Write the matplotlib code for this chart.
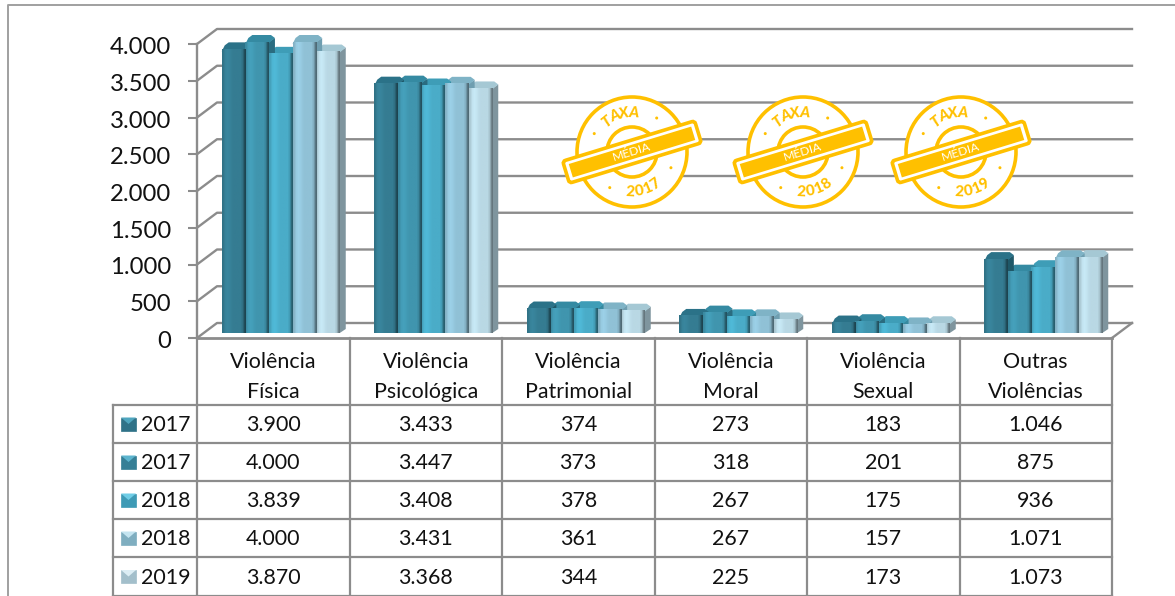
import numpy as np
import matplotlib
matplotlib.use("Agg")
import matplotlib.pyplot as plt
from matplotlib.patches import Circle, Polygon, Rectangle, FancyBboxPatch
from matplotlib.transforms import Affine2D, ScaledTranslation

categories = ["Violência\nFísica", "Violência\nPsicológica", "Violência\nPatrimonial",
              "Violência\nMoral", "Violência\nSexual", "Outras\nViolências"]
series_names = ["2017", "2017", "2018", "2018", "2019"]
v_a = [3900, 3433, 374, 273, 183, 1046]
v_b = [4000, 3447, 373, 318, 201, 875]
v_c = [3839, 3408, 378, 267, 175, 936]
v_d = [4000, 3431, 361, 267, 157, 1071]
v_e = [3870, 3368, 344, 225, 173, 1073]
series = [v_a, v_b, v_c, v_d, v_e]
yticks = [0, 500, 1000, 1500, 2000, 2500, 3000, 3500, 4000]
ytick_labels = ["0", "500", "1.000", "1.500", "2.000", "2.500", "3.000", "3.500", "4.000"]
stamp_years = ["2017", "2018", "2019"]

face = ["#357C92", "#4095AE", "#4AACC8", "#90C1D6", "#B9D8E4"]
side = ["#1F5868", "#2A6C80", "#36899F", "#6F9EB0", "#7F959E"]
top = ["#2B7288", "#358AA2", "#3E9DB7", "#7FB3C6", "#A5C8D4"]
key_body = ["#2F7288", "#367F96", "#3E9AB5", "#7FAEC0", "#A3BFCB"]
key_top = ["#4FA6BF", "#5CB4CE", "#6FCDE6", "#C4E4F0", "#DCEDF4"]
GREY = "#8C8C8C"
GOLD = "#FFC000"
FONT = "Lato"
TXT = "#111111"

W, H = 1175, 596
fig = plt.figure(figsize=(W / 100, H / 100), dpi=100)

# pixel overlay for frame, table and stamps
px = fig.add_axes([0, 0, 1, 1])
px.set_xlim(0, W)
px.set_ylim(H, 0)
px.axis("off")

# chart axes, front plane of the fake 3d box
L, R, Y0, Y4 = 197, 1112, 338, 44
ax = fig.add_axes([L / W, 1 - Y0 / H, (R - L) / W, (Y0 - Y4) / H])
ax.set_xlim(0, 6)
ax.set_ylim(0, 4000)
ax.patch.set_alpha(0)
for s in ax.spines.values():
    s.set_visible(False)
ax.set_xticks([])
ax.set_yticks(yticks)
ax.set_yticklabels(ytick_labels, fontsize=17.2, family=FONT, color=TXT)
ax.tick_params(axis="y", length=6.5, width=1.5, color=GREY, pad=12)
down = ScaledTranslation(0, -1.5 / 100, fig.dpi_scale_trans)
for lab in ax.get_yticklabels():
    lab.set_transform(lab.get_transform() + down)

DX, DY = 20, 15  # wall depth in pixels


def to_px(x, v):
    p = ax.transData.transform((x, v))
    return p[0], H - p[1]


# frame
px.plot([8, 8, W], [H, 5, 5], color="#A0A0A0", lw=1.4, solid_capstyle="butt")

# walls
for v in yticks:
    x0, y0 = to_px(0, v)
    x1, y1 = to_px(6, v)
    px.plot([x0, x0 + DX, x1 + DX], [y0, y0 - DY, y1 - DY], color=GREY, lw=1.7, zorder=1)
x0, y0 = to_px(6, 0)
px.plot([x0, x0 + DX], [y0, y0 - DY], color=GREY, lw=1.7, zorder=1)
x0, y0 = to_px(0, 0)
x1, y1 = to_px(0, 4000)
px.plot([x0, x1], [y0, y1], color=GREY, lw=1.7, zorder=1)
px.plot([x0, to_px(6, 0)[0]], [y0, y0], color=GREY, lw=2, zorder=1)

# bars
BW = 23.6
dep = 6
ax_px = (R - L) / 6
grad = np.array([[-0.08, 0.05, 0.08, 0.06, 0.02, 0.0, 0.0, 0.0, 0.0, -0.1, -0.45]])
for k in range(len(series) - 1, -1, -1):
    vals = series[k]
    for i, v in enumerate(vals):
        cx = (i + 0.5) * ax_px + L + 7.5 + (k - 2) * BW
        xl = cx - BW / 2
        xr = cx + BW / 2
        yt = to_px(0, v)[1] - 2
        yb = to_px(0, 0)[1] - 5
        zs = 3 + (5 - k) * 0.1
        px.add_patch(Polygon([(xr, yb), (xr + dep, yb - 4), (xr + dep, yt - 4), (xr, yt)],
                             fc=side[k], ec="none", zorder=zs))
        px.add_patch(Polygon([(xl, yt + 2), (xl + 3, yt - 4), (xl + 7, yt - 7), (xr + 2, yt - 7),
                              (xr + dep, yt - 4), (xr, yt + 1)],
                             fc=top[k], ec="none", zorder=zs))
        rgb = np.array(matplotlib.colors.to_rgb(face[k]))
        img = np.clip(rgb[None, None, :] * (1 + grad[..., None]), 0, 1)
        px.imshow(img, extent=(xl, xr, yb, yt), aspect="auto", zorder=zs + 0.5,
                  interpolation="bilinear")
px.set_xlim(0, W)
px.set_ylim(H, 0)

# table
row_y = [405, 443, 481, 519, 557, 596]
col_x = [L + i * ax_px for i in range(7)]
for cx in col_x:
    px.plot([cx, cx], [338, H], color=GREY, lw=1.6, zorder=2)
px.plot([113, 113], [405, H], color=GREY, lw=1.6, zorder=2)
for y in row_y:
    px.plot([113, R], [y, y], color=GREY, lw=1.6, zorder=2)

for i, cat in enumerate(categories):
    a, b = cat.split("\n")
    cx = col_x[i] + ax_px / 2
    px.text(cx, 362, a, ha="center", va="center", fontsize=15.4, family=FONT, color=TXT)
    px.text(cx, 392, b, ha="center", va="center", fontsize=15.4, family=FONT, color=TXT)


def fmt(v):
    return f"{v:,}".replace(",", ".")


for r, name in enumerate(series_names):
    yc = (row_y[r] + row_y[r + 1]) / 2
    px.add_patch(Rectangle((121, yc - 6.5), 15, 13, fc=key_body[r], ec=key_body[r], lw=0.5, zorder=4))
    px.add_patch(Polygon([(121, yc - 6.5), (136, yc - 6.5), (128.5, yc)], fc=key_top[r], ec="none", zorder=4.1))
    px.text(141, yc + 1, name, ha="left", va="center", fontsize=15.4, family=FONT, color=TXT)
    for i in range(6):
        px.text(col_x[i] + ax_px / 2, yc + 1, fmt(series[r][i]), ha="center", va="center",
                fontsize=15.4, family=FONT, color=TXT)


def stamp(cx, cy, year):
    px.add_patch(Circle((cx, cy), 55, fc="white", ec=GOLD, lw=2.6, zorder=6))
    px.add_patch(Circle((cx, cy), 25, fc="none", ec=GOLD, lw=2.6, zorder=6))
    ang = -17
    tr = Affine2D().rotate_deg_around(cx, cy, ang) + px.transData
    px.add_patch(FancyBboxPatch((cx - 69, cy - 11.5), 138, 23, boxstyle="round,pad=0,rounding_size=3",
                                fc="white", ec=GOLD, lw=2.6, transform=tr, zorder=7))
    px.add_patch(Rectangle((cx - 64, cy - 7), 128, 14, fc=GOLD, ec="none", transform=tr, zorder=8))
    px.text(cx, cy, "MÉDIA", ha="center", va="center", fontsize=8.8, color="white", rotation=17,
            rotation_mode="anchor", family=FONT, zorder=9)
    # lettering on the arc
    for j, ch in enumerate("TAXA"):
        a = np.deg2rad(-129 + j * 13.7)
        px.text(cx + 39 * np.cos(a), cy + 39 * np.sin(a), ch, ha="center", va="center", fontsize=11,
                fontweight="black", style="italic", color=GOLD, rotation=-(np.rad2deg(a) + 90),
                rotation_mode="anchor", family=FONT, zorder=7)
    for j, ch in enumerate(year):
        a = np.deg2rad(93 - j * 13)
        px.text(cx + 40 * np.cos(a), cy + 40 * np.sin(a), ch, ha="center", va="center", fontsize=11,
                fontweight="black", color=GOLD, rotation=90 - np.rad2deg(a),
                rotation_mode="anchor", family=FONT, zorder=7)
    for a in [-54, -154, 22, 122]:
        r = np.deg2rad(a)
        px.add_patch(Circle((cx + 42 * np.cos(r), cy + 42 * np.sin(r)), 1.5, fc=GOLD, ec="none", zorder=7))


for cx, yr in zip([632, 803, 961], stamp_years):
    stamp(cx, 152, yr)

fig.savefig("out.png", dpi=100)
